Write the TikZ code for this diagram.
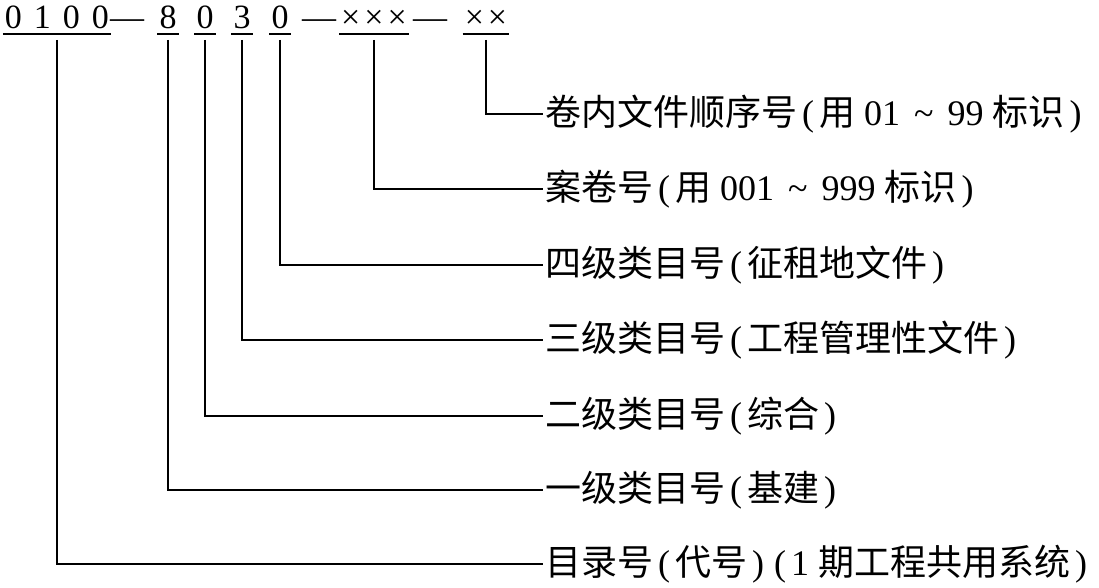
\documentclass[tikz,border=0pt]{standalone}
\usepackage{fontspec}
\setmainfont{Liberation Serif}
\newfontfamily\cjk{Noto Sans CJK SC}
\usetikzlibrary{positioning,calc}
\newcommand{\zh}[1]{{\cjk #1}}
\newcommand{\lp}{\kern5pt(\kern5pt}
\newcommand{\rp}{\kern5pt)\kern5pt}
\newcommand{\tld}{\kern14pt\textasciitilde\kern14pt}

\begin{document}
\begin{tikzpicture}[x=1pt,y=-1pt,
    code/.style={anchor=base,inner xsep=2pt,inner ysep=0pt,font=\fontsize{34}{34}\selectfont},
    lab/.style={anchor=west,inner sep=2pt,font=\fontsize{36}{40}\selectfont},
    rule/.style={line width=1.8pt}]
      \useasboundingbox (0,0) rectangle (1099,588);
      % code line
      \node[code] (n0100) at (57,29) {0\kern12pt1\kern12pt0\kern12pt0};
      \node[code] (d1) at (127,29) {—};
      \node[code] (n8) at (168,29) {8};
      \node[code] (n0a) at (205,29) {0};
      \node[code] (n3) at (242,29) {3};
      \node[code] (n0b) at (280,29) {0};
      \node[code] (d2) at (319,29) {—};
      \node[code] (nxxx) at (374,29) {×\kern4pt×\kern4pt×};
      \node[code] (d3) at (430,29) {—};
      \node[code] (nxx) at (486,29) {×\kern4pt×};
      \foreach \n in {n0100,n8,n0a,n3,n0b,nxxx,nxx}
        \draw[rule] ([yshift=-5pt]\n.base west) -- ([yshift=-5pt]\n.base east);%underline
      % labels
      \node[lab] (l1) at (543,114) {\zh{卷内文件顺序号}\lp\zh{用} 01\tld 99 \zh{标识}\rp};
      \node[lab] (l2) at (543,189) {\zh{案卷号}\lp\zh{用} 001\tld 999 \zh{标识}\rp};
      \node[lab] (l3) at (543,265) {\zh{四级类目号}\lp\zh{征租地文件}\rp};
      \node[lab] (l4) at (543,340) {\zh{三级类目号}\lp\zh{工程管理性文件}\rp};
      \node[lab] (l5) at (543,416) {\zh{二级类目号}\lp\zh{综合}\rp};
      \node[lab] (l6) at (543,490) {\zh{一级类目号}\lp\zh{基建}\rp};
      \node[lab] (l7) at (543,564) {\zh{目录号}\lp\zh{代号}\rp\lp 1 \zh{期工程共用系统}\rp};
      % connectors
      \draw[rule] ([yshift=-11pt]nxx.base) |- (l1.west);
      \draw[rule] ([yshift=-11pt]nxxx.base) |- (l2.west);
      \draw[rule] ([yshift=-11pt]n0b.base) |- (l3.west);
      \draw[rule] ([yshift=-11pt]n3.base) |- (l4.west);
      \draw[rule] ([yshift=-11pt]n0a.base) |- (l5.west);
      \draw[rule] ([yshift=-11pt]n8.base) |- (l6.west);
      \draw[rule] ([yshift=-11pt]n0100.base) |- (l7.west);
\end{tikzpicture}
\end{document}
